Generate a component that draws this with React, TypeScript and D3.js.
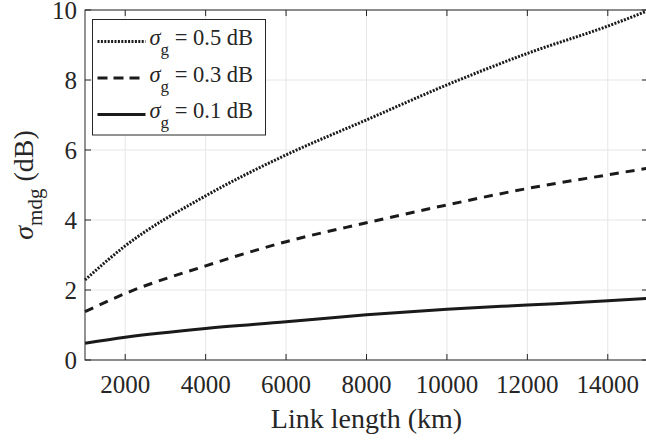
import React from "react";
import * as d3 from "d3";

/* values */
const linkLength = [1000, 2000, 4000, 6000, 8000, 10000, 12000, 14000, 15000];
const sigma05 = [2.29, 3.26, 4.69, 5.86, 6.86, 7.86, 8.76, 9.54, 9.98];
const sigma03 = [1.38, 1.9, 2.69, 3.38, 3.92, 4.43, 4.9, 5.29, 5.48];
const sigma01 = [0.48, 0.65, 0.9, 1.09, 1.29, 1.45, 1.57, 1.69, 1.76];
const seriesLabels = ["0.5", "0.3", "0.1"];
const xTicks = [2000, 4000, 6000, 8000, 10000, 12000, 14000];
const yTicks = [0, 2, 4, 6, 8, 10];

const FONT = "Liberation Serif, Times New Roman, serif";
const AXIS = "#262626";
const INK = "#1a1a1a";

const width = 646;
const height = 440;
const margin = { top: 10, right: -2, bottom: 80, left: 85 };
const innerWidth = width - margin.left - margin.right;
const innerHeight = height - margin.top - margin.bottom;

const xScale = d3.scaleLinear().domain([1000, 15000]).range([0, innerWidth]);
const yScale = d3.scaleLinear().domain([0, 10]).range([innerHeight, 0]);

const line = d3
  .line<number>()
  .x((d, i) => xScale(linkLength[i]))
  .y((d) => yScale(d))
  .curve(d3.curveMonotoneX);

const series = [
  { values: sigma05, dash: "2 1.4", legendDash: "2 1.4" },
  { values: sigma03, dash: "9 7", legendDash: "10 6" },
  { values: sigma01, dash: undefined, legendDash: undefined },
];

const App = () => {
  return (
    <svg
      width={width}
      height={height}
      style={{ position: "absolute", left: 0, top: 0, background: "white", fontFamily: FONT }}
    >
      <g transform={`translate(${margin.left}, ${margin.top})`}>
        {/* grid */}
        {xTicks.map((t) => (
          <line key={"gx" + t} x1={xScale(t)} x2={xScale(t)} y1={0} y2={innerHeight} stroke="#e6e6e6" />
        ))}
        {yTicks.map((t) => (
          <line key={"gy" + t} x1={0} x2={innerWidth} y1={yScale(t)} y2={yScale(t)} stroke="#e6e6e6" />
        ))}

        {/* curves */}
        {series.map((s, i) => (
          <path
            key={"s" + i}
            d={line(s.values) || ""}
            fill="none"
            stroke={INK}
            strokeWidth={3}
            strokeDasharray={s.dash}
          />
        ))}

        {/* box + inward ticks */}
        <rect x={0} y={0} width={innerWidth} height={innerHeight} fill="none" stroke={AXIS} />
        {xTicks.map((t) => (
          <g key={"tx" + t}>
            <line x1={xScale(t)} x2={xScale(t)} y1={innerHeight} y2={innerHeight - 6} stroke={AXIS} />
            <line x1={xScale(t)} x2={xScale(t)} y1={0} y2={6} stroke={AXIS} />
            <text
              x={xScale(t)}
              y={innerHeight + 33}
              textAnchor="middle"
              fill={AXIS}
              fontSize={25}
              style={{ fontFamily: FONT }}
            >
              {d3.format("d")(t)}
            </text>
          </g>
        ))}
        {yTicks.map((t) => (
          <g key={"ty" + t}>
            <line x1={0} x2={6} y1={yScale(t)} y2={yScale(t)} stroke={AXIS} />
            <line x1={innerWidth} x2={innerWidth - 6} y1={yScale(t)} y2={yScale(t)} stroke={AXIS} />
            <text
              x={-8}
              y={yScale(t) + 9}
              textAnchor="end"
              fill={AXIS}
              fontSize={25}
              style={{ fontFamily: FONT }}
            >
              {t}
            </text>
          </g>
        ))}
      </g>

      {/* legend */}
      <g transform="translate(92.5, 19.5)">
        <rect width={173} height={115.5} fill="white" stroke={AXIS} />
        {series.map((s, i) => {
          const baseY = 25.5 + i * 36.5;
          return (
            <g key={"l" + i}>
              <line
                x1={5}
                x2={53}
                y1={baseY - 3.5}
                y2={baseY - 3.5}
                stroke={INK}
                strokeWidth={3}
                strokeDasharray={s.legendDash}
              />
              <text x={57} y={baseY} fill={AXIS} fontSize={22.5} style={{ fontFamily: FONT }}>
                <tspan fontStyle="italic">σ</tspan>
                <tspan dy={10} fontSize={17}>g</tspan>
                <tspan dy={-10}>{" = " + seriesLabels[i] + " dB"}</tspan>
              </text>
            </g>
          );
        })}
      </g>

      {/* x axis label */}
      <text
        x={margin.left + xScale(8000)}
        y={428}
        textAnchor="middle"
        fill={AXIS}
        fontSize={28}
        style={{ fontFamily: FONT }}
      >
        Link length (km)
      </text>

      {/* y axis label */}
      <text
        transform={`translate(33, ${margin.top + innerHeight / 2}) rotate(-90)`}
        textAnchor="middle"
        fill={AXIS}
        fontSize={28}
        style={{ fontFamily: FONT }}
      >
        <tspan fontStyle="italic">σ</tspan>
        <tspan dy={9} fontSize={21}>mdg</tspan>
        <tspan dy={-9}>{" (dB)"}</tspan>
      </text>
    </svg>
  );
};

export default App;
